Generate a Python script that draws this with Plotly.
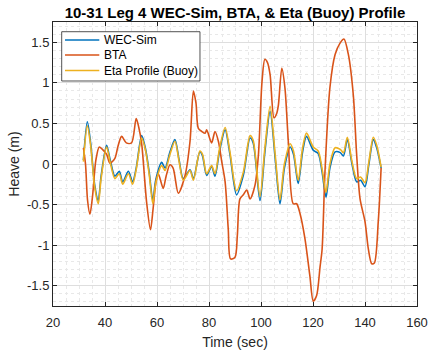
import plotly.graph_objects as go

# ---- data ----
wec_t = [31.7, 33.2, 34.5, 36.0, 37.4, 38.5, 40.6, 42.0, 43.8, 45.5, 46.8, 49.0, 50.6, 52.0,
         54.1, 55.5, 57.0, 58.4, 59.5, 61.8, 63.1, 65.0, 66.9, 68.5, 70.1, 72.7, 74.0, 76.5,
         77.5, 79.1, 81.0, 82.3, 84.0, 86.2, 88.1, 90.6, 93.2, 95.8, 97.0, 99.6, 101.5, 103.5,
         105.5, 107.3, 109.0, 111.2, 112.5, 114.3, 116.0, 117.5, 120.1, 122.0, 123.5, 125.0,
         126.5, 128.5, 130.5, 131.7, 133.2, 135.0, 136.8, 138.3, 140.0, 141.5, 143.2, 144.5, 146.2]
wec_v = [0.05, 0.52, 0.25, -0.25, -0.45, -0.15, 0.23, 0.05, -0.15, -0.09, -0.22, -0.09, -0.22, -0.05,
         0.35, 0.20, -0.10, -0.45, -0.20, 0.02, -0.05, 0.15, 0.30, 0.05, -0.18, -0.07, -0.18, 0.15,
         0.10, -0.14, -0.03, -0.15, 0.15, 0.42, 0.11, -0.38, -0.14, 0.32, 0.26, -0.45, 0.15, 0.65,
         0.05, -0.49, -0.05, 0.21, 0.12, -0.24, 0.15, 0.34, 0.17, 0.13, -0.10, -0.41,
         -0.05, 0.15, 0.14, 0.10, 0.30, 0.00, -0.22, -0.20, -0.28, 0.00, 0.30, 0.20, -0.05]

eta_t = list(wec_t)
eta_v = [0.03, 0.47, 0.22, -0.28, -0.49, -0.18, 0.21, 0.02, -0.18, -0.12, -0.25, -0.12, -0.25, -0.07,
         0.32, 0.18, -0.13, -0.49, -0.24, -0.02, -0.08, 0.12, 0.28, 0.03, -0.20, -0.08, -0.20, 0.16,
         0.12, -0.12, -0.02, -0.12, 0.18, 0.45, 0.14, -0.33, -0.10, 0.35, 0.29, -0.40, 0.20, 0.71,
         0.10, -0.44, 0.00, 0.25, 0.16, -0.20, 0.20, 0.38, 0.21, 0.16, -0.06, -0.35,
         0.00, 0.20, 0.18, 0.14, 0.33, 0.03, -0.18, -0.16, -0.23, 0.03, 0.33, 0.23, -0.04]

bta_t = [31.7, 32.5, 33.3, 34.2, 35.2, 36.5, 37.8, 39.0, 40.6, 41.9, 43.8, 45.0, 46.4, 48.2, 50.2,
         52.0, 53.0, 54.1, 56.0, 57.5, 58.5, 59.6, 60.5, 62.4, 63.5, 65.0, 66.2, 68.2, 70.8, 72.7,
         74.0, 75.0, 75.9, 77.3, 78.5, 79.1, 81.0, 82.3, 83.6, 84.9, 86.2, 87.4, 88.3, 90.0, 90.9,
         91.9, 93.2, 94.5, 95.8, 97.7, 99.0, 100.4, 101.5, 102.5, 103.5, 105.0, 106.0, 106.7, 108.0,
         109.2, 110.5, 112.4, 113.7, 115.0, 116.9, 118.8, 120.1, 121.4, 122.7, 123.5, 124.6, 126.5,
         128.5, 130.4, 131.9, 133.6, 135.5, 136.8, 138.1, 140.0, 141.3, 142.6, 143.6, 145.1, 146.2]
bta_v = [0.20, 0.00, -0.45, -0.62, -0.40, 0.05, 0.21, 0.18, 0.12, 0.01, 0.07, 0.22, 0.34, 0.26, 0.26,
         0.56, 0.45, 0.25, -0.47, -0.81, -0.55, -0.22, -0.12, -0.30, -0.15, -0.01, -0.05, -0.36, -0.14, 0.28,
         0.90, 0.75, 0.44, 0.40, 0.38, 0.42, 0.26, 0.40, 0.28, 0.03, -0.22, -0.80, -1.17, -1.15, -0.88,
         -0.43, -0.38, -0.32, -0.43, -0.26, 0.11, 1.02, 1.29, 1.25, 1.10, 0.57, 0.62, 0.73, 1.18,
         0.94, 0.28, -0.49, -0.49, -0.61, -0.92, -1.38, -1.69, -1.62, -1.27, -1.05, -0.10, 0.94,
         1.35, 1.49, 1.54, 1.35, 0.85, 0.11, -0.43, -0.71, -1.05, -1.23, -1.22, -0.71, -0.05]

series_names = ["WEC-Sim", "BTA", "Eta Profile (Buoy)"]
series_colors = ["#0072BD", "#D95319", "#EDB120"]

x_ticks = [20, 40, 60, 80, 100, 120, 140, 160]
y_ticks = [-1.5, -1, -0.5, 0, 0.5, 1, 1.5]
y_tick_text = ["-1.5", "-1", "-0.5", "0", "0.5", "1", "1.5"]

FONT = "Liberation Sans, Arial, sans-serif"
AX = "#262626"

fig = go.Figure()
for name, color, xs, ys in zip(series_names, series_colors,
                               [wec_t, bta_t, eta_t], [wec_v, bta_v, eta_v]):
    fig.add_trace(go.Scatter(x=xs, y=ys, mode="lines", name=name, showlegend=False,
                             line=dict(color=color, width=1.6, shape="spline", smoothing=0.8)))

axis_common = dict(showline=True, linecolor=AX, linewidth=1, mirror="ticks",
                   ticks="inside", ticklen=4, tickcolor=AX, tickwidth=1,
                   showgrid=True, gridcolor="#dedede", gridwidth=1, zeroline=False,
                   automargin=False,
                   tickfont=dict(family=FONT, size=13, color=AX))

fig.update_xaxes(range=[20, 160], tickvals=x_ticks, ticklabelstandoff=4,
                 minor=dict(dtick=5, tick0=20, showgrid=True, gridcolor="#e8e8e8", griddash="dot"),
                 title=dict(text="Time (sec)", font=dict(family=FONT, size=14, color=AX), standoff=8),
                 **axis_common)
fig.update_yaxes(range=[-1.75, 1.75], tickvals=y_ticks, ticktext=y_tick_text,
                 minor=dict(dtick=0.1, tick0=0, showgrid=True, gridcolor="#e8e8e8", griddash="dot"),
                 title=dict(text="Heave (m)", font=dict(family=FONT, size=14, color=AX), standoff=4),
                 **axis_common)

# MATLAB-style legend box (compact spacing)
shapes = [dict(type="rect", xref="paper", yref="paper", x0=0.0239, x1=0.4038, y0=0.7923, y1=0.9658,
               line=dict(color=AX, width=0.8), fillcolor="white", layer="above")]
annotations = []
leg_y = [0.9366, 0.8838, 0.8290]
for name, color, yy in zip(series_names, series_colors, leg_y):
    shapes.append(dict(type="line", xref="paper", yref="paper", x0=0.033, x1=0.1272, y0=yy, y1=yy,
                       line=dict(color=color, width=1.6), layer="above"))
    annotations.append(dict(text=name, xref="paper", yref="paper", x=0.1338, y=yy,
                            xanchor="left", yanchor="middle", showarrow=False,
                            font=dict(family=FONT, size=12, color="#000000")))

fig.update_layout(
    width=430, height=351,
    margin=dict(l=53, r=13, t=22, b=45),
    paper_bgcolor="white", plot_bgcolor="white",
    title=dict(text="<b>10-31 Leg 4 WEC-Sim, BTA, &amp; Eta (Buoy) Profile</b>",
               x=0.5, xref="paper", xanchor="center",
               y=1 - 12.5 / 351, yref="container", yanchor="middle",
               font=dict(family=FONT, size=15, color="#000000")),
    shapes=shapes,
    annotations=annotations,
    showlegend=False,
)

fig.write_html("out.html")
